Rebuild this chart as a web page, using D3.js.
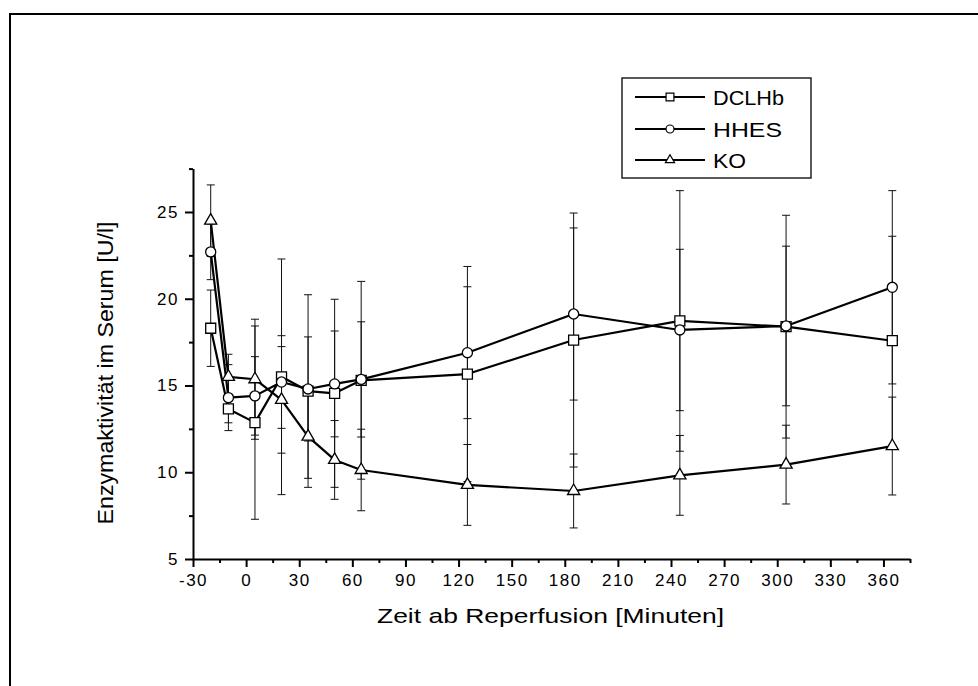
<!DOCTYPE html>
<html><head><meta charset="utf-8">
<script src="https://cdn.jsdelivr.net/npm/d3@7"></script>
<style>
html,body{margin:0;padding:0;background:#fff;overflow:hidden}
svg{display:block}
svg text{font-family:Arial,"Liberation Sans",sans-serif;fill:#000}
</style>
</head><body>
<svg id="chart" width="978" height="686"></svg>
<script>
// ---- data ----
const times = [-20, -10, 5, 20, 35, 50, 65, 125, 185, 245, 305, 365];
const seriesNames = ["DCLHb", "HHES", "KO"];
const dclhb    = [18.3, 13.65, 12.86, 15.5, 14.68, 14.55, 15.3, 15.66, 17.62, 18.72, 18.39, 17.58];
const dclhbErr = [2.2, 0.8, 5.57, 6.79, 5.55, 5.42, 5.7, 6.2, 7.32, 7.51, 6.42, 6.02];
const hhes     = [22.7, 14.3, 14.4, 15.2, 14.8, 15.09, 15.35, 16.89, 19.12, 18.2, 18.43, 20.66];
const hhesErr  = [1.6, 1.9, 2.26, 2.67, 3.0, 3.05, 3.32, 3.8, 4.96, 4.65, 4.6, 5.57];
const ko       = [24.5, 15.5, 15.36, 14.17, 12.05, 10.71, 10.13, 9.27, 8.92, 9.82, 10.44, 11.51];
const koErr    = [2.06, 1.3, 3.46, 3.07, 2.4, 2.27, 2.35, 2.33, 2.13, 2.3, 2.27, 2.82];
const xMajorTicks = [-30, 0, 30, 60, 90, 120, 150, 180, 210, 240, 270, 300, 330, 360];
const xMinorTicks = [-15, 15, 45, 75, 105, 135, 165, 195, 225, 255, 285, 315, 345, 375];
const yMajorTicks = [5, 10, 15, 20, 25];
const yMinorTicks = [7.5, 12.5, 17.5, 22.5, 27.5];
const xTitle = "Zeit ab Reperfusion [Minuten]";
const yTitle = "Enzymaktivität im Serum [U/l]";

// ---- build ----
const seriesVals = [dclhb, hhes, ko];
const seriesErrs = [dclhbErr, hhesErr, koErr];
const symbols = [d3.symbolSquare, d3.symbolCircle, d3.symbolTriangle];
const symSize = [100, 80, 64];
const legSize = [62, 50, 36];
const series = seriesNames.map((name, i) => ({
  name, sym: symbols[i], size: symSize[i], lsize: legSize[i],
  pts: times.map((t, j) => ({t, v: seriesVals[i][j], e: seriesErrs[i][j]}))
}));

const svg = d3.select("#chart");
const x = d3.scaleLinear().domain([-30, 375]).range([193, 910]);
const y = d3.scaleLinear().domain([5, 27.5]).range([559, 168.6]);

// outer frame (only top and left edges fall inside the picture)
svg.append("path").attr("d", "M10,686V14H978")
  .attr("fill", "none").attr("stroke", "#000").attr("stroke-width", 2);

// error bars
const eb = svg.append("g");
series.forEach(s => {
  s.pts.forEach(p => {
    const cx = x(p.t), y1 = y(p.v + p.e), y2 = y(p.v - p.e);
    eb.append("line").attr("x1", cx).attr("x2", cx).attr("y1", y1).attr("y2", y2)
      .attr("stroke", "#111").attr("stroke-width", 1);
    [y1, y2].forEach(yy => eb.append("line").attr("x1", cx - 4).attr("x2", cx + 4)
      .attr("y1", yy).attr("y2", yy).attr("stroke", "#111").attr("stroke-width", 1));
  });
});

// lines
const line = d3.line().x(d => x(d.t)).y(d => y(d.v));
series.forEach(s => {
  svg.append("path").datum(s.pts).attr("d", line).attr("fill", "none")
    .attr("stroke", "#000").attr("stroke-width", 2.2).attr("stroke-linejoin", "round");
});

// markers
series.forEach(s => {
  svg.append("g").selectAll("path").data(s.pts).join("path")
    .attr("d", d3.symbol().type(s.sym).size(s.size))
    .attr("transform", d => `translate(${x(d.t)},${y(d.v)})`)
    .attr("fill", "#fff").attr("stroke", "#000").attr("stroke-width", 1.3);
});

// axes
const fmt = d => String(d);
const axStyle = g => {
  g.select(".domain").attr("stroke-width", 2);
  g.selectAll(".tick line").attr("stroke-width", 2);
  g.selectAll("text").style("font-size", "17px").style("letter-spacing", "1.5px");
};
svg.append("g").attr("transform", "translate(0,559)")
  .call(d3.axisBottom(x).tickValues(xMinorTicks).tickSize(4).tickSizeOuter(0).tickFormat(""))
  .call(g => { g.select(".domain").remove(); g.selectAll(".tick line").attr("stroke-width", 2); });
svg.append("g").attr("transform", "translate(193,0)")
  .call(d3.axisLeft(y).tickValues(yMinorTicks).tickSize(4).tickSizeOuter(0).tickFormat(""))
  .call(g => { g.select(".domain").remove(); g.selectAll(".tick line").attr("stroke-width", 2); });
svg.append("g").attr("transform", "translate(0,559)")
  .call(d3.axisBottom(x).tickValues(xMajorTicks).tickSize(8).tickSizeOuter(0).tickPadding(7).tickFormat(fmt))
  .call(axStyle);
svg.append("g").attr("transform", "translate(193,0)")
  .call(d3.axisLeft(y).tickValues(yMajorTicks).tickSize(8).tickSizeOuter(0).tickPadding(6).tickFormat(fmt))
  .call(axStyle);

// axis titles
svg.append("text").attr("x", 550.5).attr("y", 623).attr("text-anchor", "middle")
  .style("font-size", "21px").attr("textLength", 347).attr("lengthAdjust", "spacingAndGlyphs")
  .text(xTitle);
svg.append("text").attr("transform", "translate(113,373) rotate(-90)").attr("text-anchor", "middle")
  .style("font-size", "22px").attr("textLength", 303).attr("lengthAdjust", "spacingAndGlyphs")
  .text(yTitle);

// legend
const leg = svg.append("g");
leg.append("rect").attr("x", 622).attr("y", 78).attr("width", 189).attr("height", 100)
  .attr("fill", "#fff").attr("stroke", "#000").attr("stroke-width", 1.3);
const legRowY = [97, 129, 160];
const legTextLen = [71, 69, 33];
series.forEach((s, i) => {
  const ly = legRowY[i];
  leg.append("line").attr("x1", 635).attr("x2", 705).attr("y1", ly).attr("y2", ly)
    .attr("stroke", "#000").attr("stroke-width", 2.2);
  leg.append("path").attr("d", d3.symbol().type(s.sym).size(s.lsize))
    .attr("transform", `translate(670,${ly})`).attr("fill", "#fff").attr("stroke", "#000").attr("stroke-width", 1.2);
  leg.append("text").attr("x", 713).attr("y", ly + 7.5).style("font-size", "21px")
    .attr("textLength", legTextLen[i]).attr("lengthAdjust", "spacingAndGlyphs").text(s.name);
});
</script>
</body></html>
